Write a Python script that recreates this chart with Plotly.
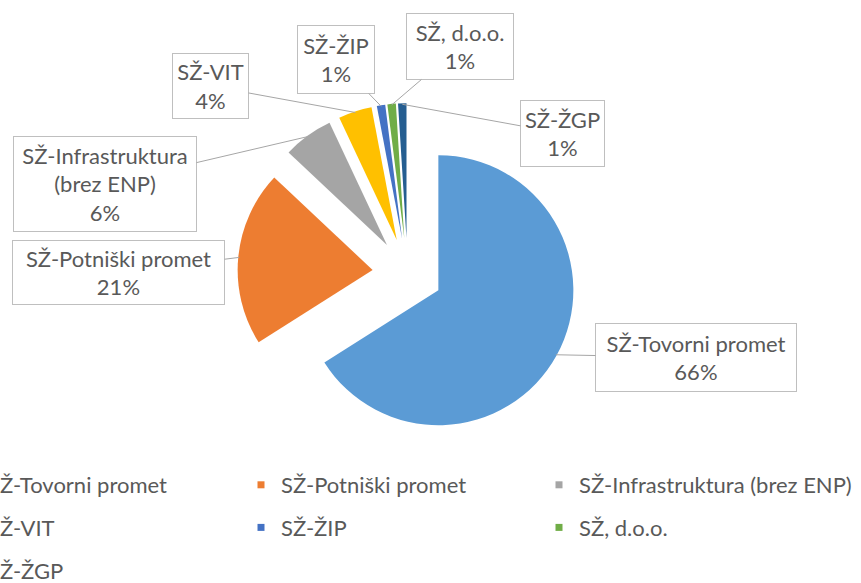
import math
import plotly.graph_objects as go

# ---- data ----
labels = ["SŽ-Tovorni promet", "SŽ-Potniški promet", "SŽ-Infrastruktura (brez ENP)",
          "SŽ-VIT", "SŽ-ŽIP", "SŽ, d.o.o.", "SŽ-ŽGP"]
values = [66, 21, 6, 4, 1, 1, 1]
callout_text = ["SŽ-Tovorni promet", "SŽ-Potniški promet", "SŽ-Infrastruktura<br>(brez ENP)",
                "SŽ-VIT", "SŽ-ŽIP", "SŽ, d.o.o.", "SŽ-ŽGP"]
colors = ["#5B9BD5", "#ED7D31", "#A5A5A5", "#FFC000", "#4472C4", "#70AD47", "#255E91"]

# ---- layout constants (pixels) ----
W, H = 861, 583
MB = 120                 # bottom margin holding the legend
PH = H - MB              # plot-area height
CX, CY, R, PULL = 407.6, 273.3, 135.0, 0.26
FONT = "Lato, 'Open Sans', sans-serif"
TXT = "#595959"

# callout boxes: center x, center y, width, height (pixels)
boxes = [(696, 357.5, 202, 69), (118.5, 272.5, 213, 65), (105, 184, 184, 96),
         (210.5, 86, 77, 66), (336, 59.5, 78, 69), (460, 46.5, 108, 67), (562.5, 133.5, 85, 67)]

S = R * (2 + 2 * PULL)
dom_x = [(CX - S / 2) / W, (CX + S / 2) / W]
dom_y = [(PH - CY - S / 2) / PH, (PH - CY + S / 2) / PH]

fig = go.Figure()
fig.add_trace(go.Pie(
    labels=labels, values=values, sort=False, direction="clockwise", rotation=0,
    pull=[PULL] * len(values), marker=dict(colors=colors, line=dict(width=0)),
    textinfo="none", hoverinfo="label+percent", showlegend=False,
    domain=dict(x=dom_x, y=dom_y),
))

# legend entries: three columns (one legend per column), rows spaced by group gaps
legend_ids = ["legend", "legend2", "legend3"]
for i, (lab, col) in enumerate(zip(labels, colors)):
    fig.add_trace(go.Scatter(
        x=[None], y=[None], mode="markers", name=lab,
        marker=dict(symbol="square", size=7, color=col),
        legend=legend_ids[i % 3], legendgroup=f"g{i}",
        showlegend=True, hoverinfo="skip",
    ))

# callout annotations
total = sum(values)
cum = 0
annotations = []
for i, v in enumerate(values):
    mid = (cum + v / 2) / total
    cum += v
    ang = 2 * math.pi * mid
    dx, dy = math.sin(ang), -math.cos(ang)
    rr = R * (1 + PULL) - 1
    tx, ty = CX + rr * dx, CY + rr * dy
    bx, by, bw, bh = boxes[i]
    pct = round(v / total * 100)
    annotations.append(dict(
        x=tx / W, y=(PH - ty) / PH, xref="paper", yref="paper",
        ax=bx - tx, ay=by - ty, axref="pixel", ayref="pixel",
        text=f"{callout_text[i]}<br>{pct}%", showarrow=True, arrowhead=0,
        arrowwidth=1, arrowcolor="#A6A6A6", standoff=0,
        bordercolor="#BFBFBF", borderwidth=1, borderpad=1, bgcolor="white",
        width=bw - 4, height=bh - 4, align="center", valign="middle",
        font=dict(family=FONT, size=22, color=TXT),
    ))

col_text_x = [-12, 281, 579]
row1_y = 485
leg_common = dict(orientation="v", xref="paper", yref="paper", xanchor="left",
                  yanchor="top", tracegroupgap=11,
                  font=dict(family=FONT, size=22, color=TXT), bgcolor="rgba(0,0,0,0)",
                  itemclick=False, itemdoubleclick=False)
legs = {}
for k, lid in enumerate(legend_ids):
    legs[lid] = dict(leg_common, x=(col_text_x[k] - 40) / W, y=(PH - (row1_y - 21)) / PH)

fig.update_layout(
    width=W, height=H, margin=dict(l=0, r=0, t=0, b=MB, autoexpand=False),
    paper_bgcolor="white", plot_bgcolor="white",
    xaxis=dict(visible=False), yaxis=dict(visible=False),
    annotations=annotations, showlegend=True,
    **legs,
)
fig.write_html("out.html")
